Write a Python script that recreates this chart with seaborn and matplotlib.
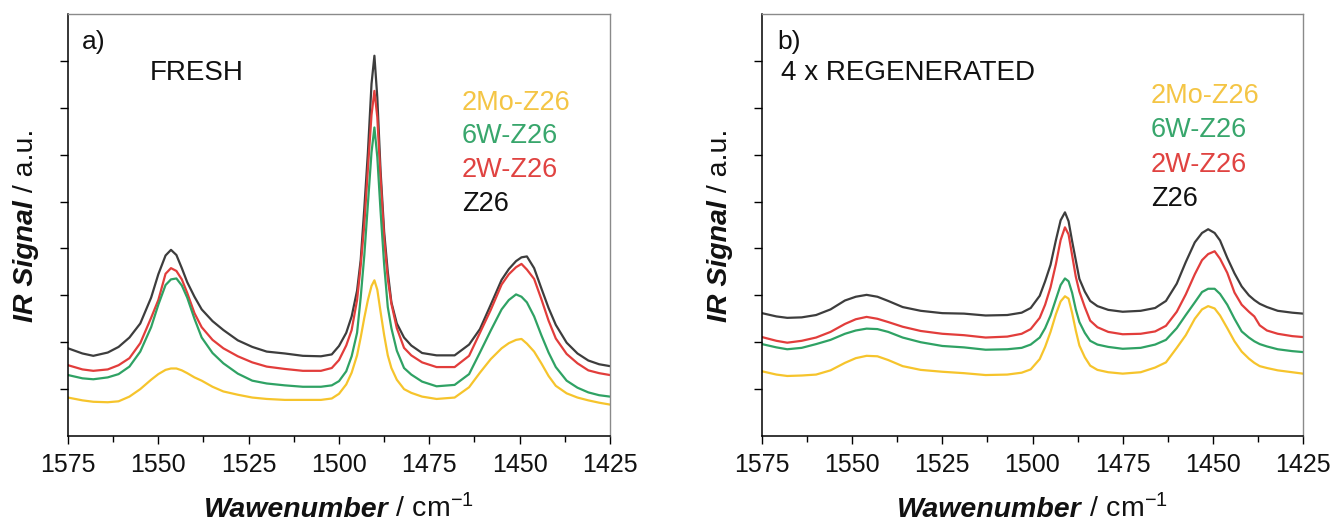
import matplotlib
matplotlib.use("Agg")
import matplotlib.pyplot as plt
from matplotlib.ticker import MultipleLocator, NullFormatter
import seaborn as sns
import pandas as pd

# ---------------- data ----------------
samples = ["Z26", "2W-Z26", "6W-Z26", "2Mo-Z26"]
legend_order = ["2Mo-Z26", "6W-Z26", "2W-Z26", "Z26"]

wn_fresh = [1575, 1571, 1568, 1564, 1561, 1558, 1555, 1552, 1550, 1548,
            1546.5, 1545, 1543.5, 1542, 1540, 1538, 1535, 1532, 1528, 1524,
            1520, 1515, 1510, 1505, 1502, 1500, 1498, 1496.5, 1495, 1494,
            1493, 1492, 1491, 1490.2, 1489.4, 1488.5, 1487.5, 1486.5, 1485.5, 1484,
            1482, 1480, 1477, 1473, 1468, 1464, 1461, 1458, 1455, 1453,
            1451, 1449.5, 1448, 1446, 1444, 1442, 1440, 1437, 1434, 1431,
            1428, 1425]
fresh_Z26 = [1.87, 1.76, 1.71, 1.78, 1.90, 2.10, 2.40, 2.95, 3.45, 3.85,
             3.97, 3.86, 3.58, 3.28, 2.97, 2.70, 2.45, 2.26, 2.04, 1.90,
             1.80, 1.76, 1.71, 1.70, 1.74, 1.92, 2.20, 2.55, 3.10, 3.75,
             4.85, 6.05, 7.51, 8.11, 7.22, 5.66, 4.35, 3.50, 2.85, 2.40,
             2.10, 1.93, 1.77, 1.72, 1.72, 1.95, 2.28, 2.80, 3.33, 3.56,
             3.73, 3.81, 3.83, 3.58, 3.15, 2.73, 2.37, 1.99, 1.76, 1.61,
             1.53, 1.49]
fresh_2W = [1.51, 1.42, 1.39, 1.42, 1.51, 1.66, 1.98, 2.52, 2.90, 3.46,
            3.58, 3.52, 3.34, 3.05, 2.62, 2.32, 2.05, 1.87, 1.70, 1.57,
            1.48, 1.43, 1.39, 1.39, 1.45, 1.62, 1.93, 2.26, 2.90, 3.63,
            4.50, 5.70, 6.85, 7.36, 6.80, 5.50, 4.20, 3.35, 2.82, 2.30,
            1.88, 1.72, 1.57, 1.47, 1.47, 1.71, 2.20, 2.69, 3.23, 3.45,
            3.60, 3.67, 3.55, 3.35, 2.92, 2.46, 2.08, 1.75, 1.55, 1.40,
            1.34, 1.30]
fresh_6W = [1.30, 1.23, 1.21, 1.25, 1.32, 1.48, 1.80, 2.32, 2.80, 3.22,
            3.34, 3.36, 3.21, 2.95, 2.50, 2.10, 1.77, 1.55, 1.33, 1.18,
            1.12, 1.08, 1.05, 1.05, 1.08, 1.17, 1.38, 1.70, 2.20, 2.95,
            3.85, 4.95, 6.05, 6.58, 5.95, 4.80, 3.65, 2.75, 2.30, 1.82,
            1.45, 1.31, 1.16, 1.06, 1.09, 1.32, 1.78, 2.25, 2.70, 2.90,
            3.02, 2.97, 2.85, 2.55, 2.15, 1.78, 1.47, 1.18, 1.03, 0.93,
            0.87, 0.84]
fresh_2Mo = [0.82, 0.76, 0.73, 0.72, 0.74, 0.84, 1.00, 1.20, 1.32, 1.41,
             1.44, 1.44, 1.40, 1.34, 1.25, 1.18, 1.05, 0.95, 0.88, 0.82,
             0.79, 0.77, 0.77, 0.77, 0.80, 0.90, 1.10, 1.35, 1.72, 2.10,
             2.52, 2.90, 3.20, 3.32, 3.12, 2.65, 2.15, 1.72, 1.45, 1.20,
             1.00, 0.92, 0.84, 0.79, 0.82, 1.04, 1.35, 1.64, 1.87, 1.98,
             2.05, 2.07, 1.97, 1.80, 1.55, 1.28, 1.07, 0.91, 0.82, 0.76,
             0.71, 0.67]

wn_regen = [1575, 1571, 1568, 1564, 1560, 1556, 1552, 1549, 1546, 1543,
            1540, 1536, 1531, 1525, 1519, 1513, 1507, 1503, 1500.5, 1498,
            1496.5, 1495, 1493.5, 1492.2, 1491, 1490, 1489, 1488, 1487, 1485.5,
            1484, 1482, 1479, 1475, 1470, 1466, 1463, 1460, 1457.5, 1455,
            1453, 1451.3, 1449.5, 1448, 1446, 1444, 1442, 1440, 1438.5, 1437,
            1435, 1432, 1428, 1425]
regen_Z26 = [2.62, 2.55, 2.52, 2.53, 2.58, 2.70, 2.89, 2.97, 3.01, 2.97,
             2.88, 2.75, 2.67, 2.62, 2.61, 2.57, 2.58, 2.63, 2.73, 2.99,
             3.30, 3.65, 4.18, 4.60, 4.77, 4.58, 4.15, 3.75, 3.35, 3.08,
             2.88, 2.77, 2.69, 2.65, 2.67, 2.73, 2.88, 3.25, 3.71, 4.13,
             4.33, 4.41, 4.33, 4.17, 3.80, 3.47, 3.19, 3.00, 2.90, 2.82,
             2.75, 2.67, 2.63, 2.61]
regen_2W = [2.11, 2.03, 1.99, 2.03, 2.10, 2.22, 2.39, 2.49, 2.54, 2.50,
            2.43, 2.33, 2.24, 2.18, 2.15, 2.10, 2.12, 2.18, 2.28, 2.52,
            2.80, 3.17, 3.67, 4.18, 4.45, 4.30, 3.85, 3.40, 3.08, 2.75,
            2.46, 2.32, 2.22, 2.17, 2.18, 2.23, 2.35, 2.65, 3.02, 3.45,
            3.75, 3.88, 3.94, 3.78, 3.48, 3.06, 2.80, 2.65, 2.55, 2.36,
            2.25, 2.18, 2.13, 2.11]
regen_6W = [1.96, 1.89, 1.85, 1.88, 1.96, 2.05, 2.18, 2.25, 2.29, 2.28,
            2.22, 2.10, 2.00, 1.92, 1.89, 1.84, 1.85, 1.88, 1.95, 2.10,
            2.30, 2.57, 2.92, 3.22, 3.36, 3.30, 3.05, 2.70, 2.43, 2.20,
            2.03, 1.95, 1.90, 1.86, 1.88, 1.95, 2.05, 2.30, 2.58, 2.85,
            3.07, 3.14, 3.14, 3.03, 2.80, 2.50, 2.23, 2.10, 2.02, 1.96,
            1.91, 1.85, 1.81, 1.79]
regen_2Mo = [1.38, 1.31, 1.28, 1.29, 1.31, 1.40, 1.56, 1.66, 1.71, 1.70,
             1.62, 1.49, 1.41, 1.37, 1.34, 1.30, 1.31, 1.35, 1.42, 1.64,
             1.90, 2.22, 2.60, 2.87, 2.98, 2.93, 2.62, 2.25, 1.93, 1.68,
             1.50, 1.41, 1.36, 1.33, 1.36, 1.46, 1.57, 1.88, 2.15, 2.50,
             2.70, 2.77, 2.72, 2.57, 2.30, 2.02, 1.80, 1.65, 1.56, 1.49,
             1.45, 1.40, 1.36, 1.33]

x_ticks = [1575, 1550, 1525, 1500, 1475, 1450, 1425]
panel_tags = ["a)", "b)"]
panel_titles = ["FRESH", "4 x REGENERATED"]

line_colors = {"Z26": "#3d3d3d", "2W-Z26": "#e23d3b",
               "6W-Z26": "#2fa264", "2Mo-Z26": "#f6c42c"}
text_colors = {"Z26": "#111111", "2W-Z26": "#e04341",
               "6W-Z26": "#38a66c", "2Mo-Z26": "#f4c545"}

# ---------------- style ----------------
sns.set_style("ticks")
FONT = ["Liberation Sans", "DejaVu Sans"]
plt.rcParams["font.family"] = FONT
plt.rcParams["mathtext.default"] = "regular"


def long_frame(wn, series):
    rows = []
    for name, vals in series.items():
        for w, v in zip(wn, vals):
            rows.append({"wn": w, "signal": v, "sample": name})
    return pd.DataFrame(rows)


df_a = long_frame(wn_fresh, {"Z26": fresh_Z26, "2W-Z26": fresh_2W,
                             "6W-Z26": fresh_6W, "2Mo-Z26": fresh_2Mo})
df_b = long_frame(wn_regen, {"Z26": regen_Z26, "2W-Z26": regen_2W,
                             "6W-Z26": regen_6W, "2Mo-Z26": regen_2Mo})

W, H = 1336, 529
fig = plt.figure(figsize=(W / 100, H / 100), dpi=100)
ax_a = fig.add_axes([68 / W, 1 - 436 / H, 542 / W, 422 / H])
ax_b = fig.add_axes([762 / W, 1 - 436 / H, 541 / W, 422 / H])

legend_y = {0: [0.790, 0.710, 0.630, 0.549], 1: [0.806, 0.725, 0.642, 0.562]}
legend_x = {0: 0.727, 1: 0.719}
tag_x = {0: 0.026, 1: 0.028}
title_x = {0: 0.151, 1: 0.035}

for i, (ax, df) in enumerate([(ax_a, df_a), (ax_b, df_b)]):
    sns.lineplot(data=df, x="wn", y="signal", hue="sample",
                 hue_order=samples, palette=line_colors, legend=False,
                 errorbar=None, linewidth=1.6, ax=ax)
    ax.set_xlim(1575, 1425)
    ax.set_ylim(0, 9)
    ax.set_xticks(x_ticks)
    ax.xaxis.set_minor_locator(MultipleLocator(12.5))
    ax.set_yticks(range(1, 9))
    ax.yaxis.set_major_formatter(NullFormatter())
    ax.set_xlabel("")
    ax.set_ylabel("")
    ax.tick_params(axis="x", which="major", length=6, width=1, labelsize=18,
                   pad=6, direction="out", color="black", labelcolor="#111111")
    ax.tick_params(axis="x", which="minor", length=4, width=1,
                   direction="out", color="black")
    ax.tick_params(axis="y", which="major", length=6, width=1,
                   direction="out", color="black")
    for s in ["left", "bottom"]:
        ax.spines[s].set_color("black")
        ax.spines[s].set_linewidth(1.1)
    for s in ["top", "right"]:
        ax.spines[s].set_color("#8a8a8a")
        ax.spines[s].set_linewidth(1.0)

    ax.text(tag_x[i], 0.934, panel_tags[i], transform=ax.transAxes,
            fontsize=19, va="center", ha="left", color="#111111")
    ax.text(title_x[i], 0.860, panel_titles[i], transform=ax.transAxes,
            fontsize=20, va="center", ha="left", color="#111111")
    for name, yy in zip(legend_order, legend_y[i]):
        ax.text(legend_x[i], yy, name, transform=ax.transAxes, fontsize=19.5,
                va="center", ha="left", color=text_colors[name])

# ---------------- composite axis labels ----------------
xl_parts, yl_parts = [], []
for ax in (ax_a, ax_b):
    t1 = fig.text(0, 0.022, "Wawenumber", fontsize=20.5, fontweight="bold",
                  fontstyle="italic", ha="left", va="baseline", color="#111111")
    t2 = fig.text(0, 0.022, " / cm$^{-1}$", fontsize=20.5,
                  ha="left", va="baseline", color="#111111")
    xl_parts.append((ax, t1, t2))
    s1 = fig.text(0, 0.5, "IR Signal", fontsize=20.5, fontweight="bold",
                  fontstyle="italic", rotation=90, ha="left",
                  va="baseline", rotation_mode="anchor", color="#111111")
    s2 = fig.text(0, 0.5, " / a.u.", fontsize=20.5, rotation=90, ha="left",
                  va="baseline", rotation_mode="anchor", color="#111111")
    yl_parts.append((ax, s1, s2))

fig.canvas.draw()
r = fig.canvas.get_renderer()
for ax, t1, t2 in xl_parts:
    w1 = t1.get_window_extent(r).width
    w2 = t2.get_window_extent(r).width
    bb = ax.get_window_extent(r)
    xc = (bb.x0 + bb.x1) / 2
    x0 = xc - (w1 + w2) / 2
    t1.set_x(x0 / W)
    t2.set_x((x0 + w1) / W)

for ax, s1, s2 in yl_parts:
    h1 = s1.get_window_extent(r).height
    h2 = s2.get_window_extent(r).height
    bb = ax.get_window_extent(r)
    yc = (bb.y0 + bb.y1) / 2
    y0 = yc - (h1 + h2) / 2
    xb = bb.x0 - 35  # baseline x position (pixels)
    s1.set_position((xb / W, y0 / H))
    s2.set_position((xb / W, (y0 + h1) / H))

fig.savefig("out.png", dpi=100)
